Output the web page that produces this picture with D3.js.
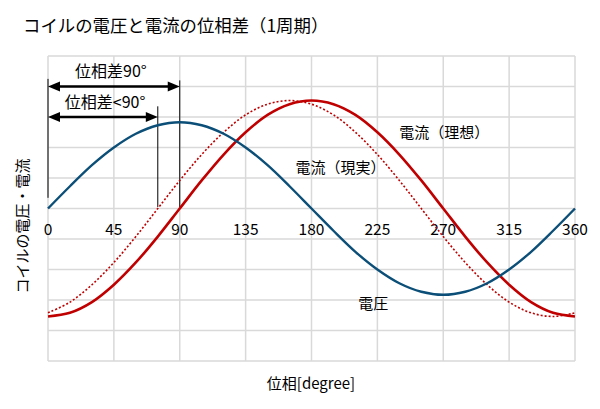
<!DOCTYPE html>
<html><head><meta charset="utf-8">
<script src="https://cdn.jsdelivr.net/npm/d3@7"></script>
<style>
body{margin:0;background:#fff;}
text{font-family:"Noto Sans CJK JP","Noto Sans",sans-serif;fill:#000;}
</style></head>
<body><svg id="c" width="600" height="409"></svg>
<script>
const angles = [0,15,30,45,60,75,90,105,120,135,150,165,180,195,210,225,240,255,270,285,300,315,330,345,360];
const voltage = [0,0.73,1.42,2.0,2.45,2.73,2.83,2.73,2.45,2.0,1.42,0.73,0,-0.73,-1.42,-2.0,-2.45,-2.73,-2.83,-2.73,-2.45,-2.0,-1.42,-0.73,0];
const currentIdeal = [-3.54,-3.42,-3.07,-2.5,-1.77,-0.92,0,0.92,1.77,2.5,3.07,3.42,3.54,3.42,3.07,2.5,1.77,0.92,0,-0.92,-1.77,-2.5,-3.07,-3.42,-3.54];
const currentReal = [-3.42,-3.07,-2.5,-1.77,-0.92,0,0.92,1.77,2.5,3.07,3.42,3.54,3.42,3.07,2.5,1.77,0.92,0,-0.92,-1.77,-2.5,-3.07,-3.42,-3.54,-3.42];
const xTicks = [0,45,90,135,180,225,270,315,360];
const yGrid = [-5,-4,-3,-2,-1,0,1,2,3,4,5];
const title = "コイルの電圧と電流の位相差（1周期）";
const xLabel = "位相[degree]";
const yLabel = "コイルの電圧・電流";

const svg = d3.select("#c");
const x = d3.scaleLinear().domain([0,360]).range([48,575]);
const y = d3.scaleLinear().domain([-5,5]).range([361,56]);

// grid
svg.append("g").selectAll("line").data(xTicks).join("line")
  .attr("x1",d=>x(d)).attr("x2",d=>x(d)).attr("y1",y(5)).attr("y2",y(-5))
  .attr("stroke","#d9d9d9").attr("stroke-width",1.5);
svg.append("g").selectAll("line").data(yGrid).join("line")
  .attr("x1",x(0)).attr("x2",x(360)).attr("y1",d=>y(d)).attr("y2",d=>y(d))
  .attr("stroke","#d9d9d9").attr("stroke-width",1.5);

// x tick labels
svg.append("g").selectAll("text").data(xTicks).join("text")
  .attr("x",d=>x(d)).attr("y",y(0)+26).attr("text-anchor","middle")
  .attr("font-size",15.5).text(d=>d);

// annotation lines
const ann = svg.append("g").attr("stroke","#000");
ann.append("line").attr("x1",x(0)).attr("x2",x(0)).attr("y1",y(4.25)).attr("y2",y(0.35)).attr("stroke-width",1);
ann.append("line").attr("x1",x(90)).attr("x2",x(90)).attr("y1",y(4.2)).attr("y2",y(0.05)).attr("stroke-width",1);
ann.append("line").attr("x1",x(75)).attr("x2",x(75)).attr("y1",y(3.35)).attr("y2",y(0.05)).attr("stroke-width",1);

function head(xt, yv, dir){
  const L = 12, H = 5;
  svg.append("path")
    .attr("d", `M${xt},${yv} L${xt - dir*L},${yv-H} L${xt - dir*L},${yv+H} Z`)
    .attr("fill","#000");
}
function arrow(a0,a1,v){
  svg.append("line").attr("x1",x(a0)+10).attr("x2",x(a1)-10).attr("y1",y(v)).attr("y2",y(v))
    .attr("stroke","#000").attr("stroke-width",2.5);
  head(x(a0), y(v), -1);
  head(x(a1), y(v), 1);
}
arrow(0,90,4);
arrow(0,75,3);

const line = d3.line().x((d,i)=>x(angles[i])).y(d=>y(d)).curve(d3.curveCatmullRom);

svg.append("path").attr("d",line(currentReal)).attr("fill","none")
  .attr("stroke","#c00000").attr("stroke-width",1.6).attr("stroke-dasharray","2,2");
svg.append("path").attr("d",line(currentIdeal)).attr("fill","none")
  .attr("stroke","#c00000").attr("stroke-width",2.6);
svg.append("path").attr("d",line(voltage)).attr("fill","none")
  .attr("stroke","#0b4f78").attr("stroke-width",2.4);

// labels
svg.append("text").attr("x",x(43)).attr("y",y(4.5)+6).attr("text-anchor","middle").attr("font-size",16).text("位相差90°");
svg.append("text").attr("x",x(39)).attr("y",y(3.5)+6).attr("text-anchor","middle").attr("font-size",16).text("位相差<90°");
svg.append("text").attr("x",x(240)).attr("y",y(2.5)+6).attr("font-size",15).text("電流（理想）");
svg.append("text").attr("x",x(169)).attr("y",y(1.35)+6).attr("font-size",15).text("電流（現実）");
svg.append("text").attr("x",x(212)).attr("y",y(-3.1)+6).attr("font-size",15).text("電圧");

svg.append("text").attr("x",23).attr("y",32).attr("font-size",17.4).text(title);
svg.append("text").attr("x",311).attr("y",389).attr("text-anchor","middle").attr("font-size",15).text(xLabel);
svg.append("text").attr("transform","translate(28,226) rotate(-90)").attr("text-anchor","middle").attr("font-size",15).text(yLabel);
</script></body></html>
